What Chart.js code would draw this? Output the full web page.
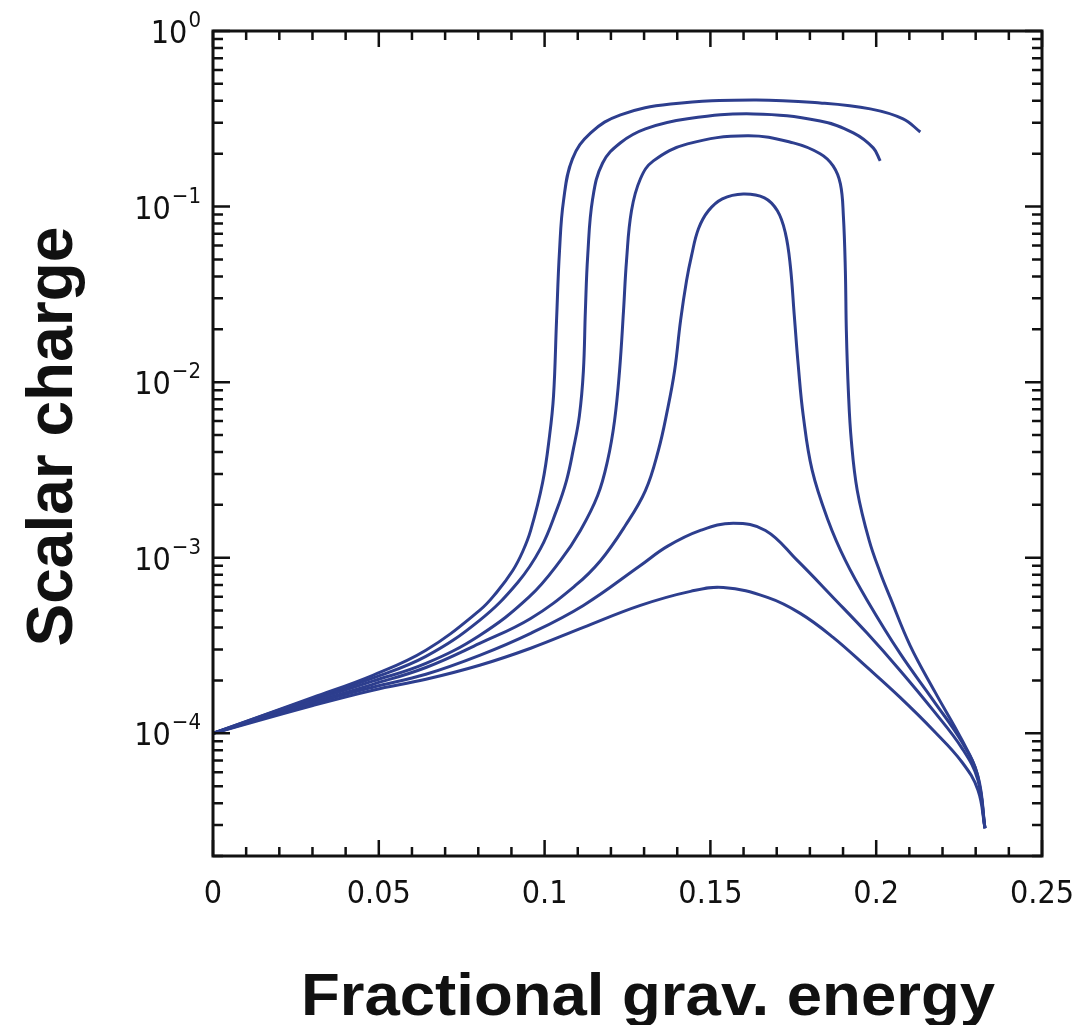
<!DOCTYPE html>
<html>
<head>
<meta charset="utf-8">
<script src="https://cdn.jsdelivr.net/npm/chart.js@4.4.1/dist/chart.umd.min.js"></script>
<style>
  html, body { margin: 0; padding: 0; background: #fff; }
  #wrap { width: 1082px; height: 1025px; position: relative; }
</style>
</head>
<body>
<div id="wrap"><canvas id="chargeChart"></canvas></div>
<script>
// fractional grav. energy (x) vs scalar charge (y), one pair per track
const xA = [0, 0.0301, 0.0482, 0.0642, 0.0804, 0.0855, 0.0904, 0.0934, 0.0958, 0.0994, 0.1015, 0.1027, 0.1036, 0.1045, 0.1057, 0.1084, 0.1139, 0.1229, 0.1380, 0.1630, 0.1831, 0.1982, 0.2081, 0.2133];
const yA = [1.0e-4, 1.60e-4, 2.14e-4, 2.97e-4, 5.01e-4, 6.34e-4, 8.46e-4, 1.085e-3, 1.43e-3, 2.68e-3, 4.96e-3, 8.38e-3, 0.0224, 0.0560, 0.1078, 0.187, 0.263, 0.333, 0.384, 0.405, 0.389, 0.360, 0.316, 0.266];

const xB = [0, 0.0301, 0.0482, 0.0642, 0.0804, 0.0919, 0.0988, 0.1036, 0.1066, 0.1087, 0.1105, 0.1117, 0.1123, 0.1130, 0.1145, 0.1175, 0.1229, 0.1304, 0.1431, 0.1630, 0.1831, 0.1931, 0.1991, 0.2012];
const yB = [1.0e-4, 1.58e-4, 2.06e-4, 2.74e-4, 4.40e-4, 7.23e-4, 1.13e-3, 1.86e-3, 2.75e-3, 4.18e-3, 6.45e-3, 0.0116, 0.0255, 0.0524, 0.111, 0.177, 0.231, 0.277, 0.316, 0.337, 0.307, 0.263, 0.216, 0.182];

const xC = [0, 0.0301, 0.0482, 0.0642, 0.0804, 0.0955, 0.1048, 0.1108, 0.1160, 0.1190, 0.1211, 0.1226, 0.1238, 0.1247, 0.1262, 0.1289, 0.1328, 0.1431, 0.1611, 0.1750, 0.1831, 0.1870, 0.1892, 0.1901, 0.1907, 0.1910, 0.1916, 0.1925, 0.1943, 0.1979, 0.2012, 0.2042, 0.2102, 0.2178, 0.2259, 0.2304, 0.2328];
const yC = [1.0e-4, 1.54e-4, 1.98e-4, 2.50e-4, 3.61e-4, 6.02e-4, 9.65e-4, 1.43e-3, 2.26e-3, 3.58e-3, 6.04e-3, 0.0116, 0.0255, 0.0491, 0.0946, 0.144, 0.182, 0.2275, 0.253, 0.2306, 0.200, 0.1705, 0.1347, 0.0886, 0.0431, 0.0196, 8.95e-3, 4.64e-3, 2.41e-3, 1.25e-3, 8.24e-4, 5.94e-4, 3.17e-4, 1.71e-4, 9.12e-5, 5.92e-5, 2.88e-5];

const xD = [0, 0.0301, 0.0482, 0.0642, 0.0804, 0.0958, 0.1093, 0.1169, 0.1244, 0.1304, 0.1343, 0.1370, 0.1392, 0.1410, 0.1428, 0.1443, 0.1464, 0.1494, 0.1536, 0.1599, 0.1663, 0.1702, 0.1726, 0.1741, 0.1753, 0.1765, 0.1780, 0.1807, 0.1855, 0.1907, 0.1973, 0.2072, 0.2172, 0.2259, 0.2307, 0.2328];
const yD = [1.0e-4, 1.50e-4, 1.90e-4, 2.37e-4, 3.25e-4, 4.51e-4, 6.95e-4, 9.65e-4, 1.53e-3, 2.41e-3, 4.08e-3, 6.88e-3, 0.0116, 0.0224, 0.0378, 0.0524, 0.0747, 0.0946, 0.1107, 0.118, 0.1121, 0.0946, 0.0709, 0.0460, 0.0239, 0.0124, 6.45e-3, 3.14e-3, 1.63e-3, 9.65e-4, 5.71e-4, 2.85e-4, 1.54e-4, 8.89e-5, 5.69e-5, 2.88e-5];

const xE = [0, 0.0301, 0.0482, 0.0642, 0.0804, 0.0958, 0.1117, 0.1289, 0.1370, 0.1470, 0.1569, 0.1666, 0.1762, 0.1870, 0.1973, 0.2072, 0.2172, 0.2259, 0.2307, 0.2328];
const yE = [1.0e-4, 1.48e-4, 1.83e-4, 2.17e-4, 2.78e-4, 3.71e-4, 5.35e-4, 9.03e-4, 1.16e-3, 1.43e-3, 1.57e-3, 1.43e-3, 9.65e-4, 5.94e-4, 3.71e-4, 2.28e-4, 1.35e-4, 8.21e-5, 5.40e-5, 2.88e-5];

const xF = [0, 0.0301, 0.0482, 0.0642, 0.0804, 0.0958, 0.1117, 0.1289, 0.1440, 0.1539, 0.1672, 0.1771, 0.1870, 0.1973, 0.2072, 0.2172, 0.2259, 0.2307, 0.2328];
const yF = [1.0e-4, 1.44e-4, 1.76e-4, 2.03e-4, 2.44e-4, 3.05e-4, 4.01e-4, 5.35e-4, 6.43e-4, 6.77e-4, 5.94e-4, 4.82e-4, 3.52e-4, 2.37e-4, 1.60e-4, 1.04e-4, 6.84e-5, 4.74e-5, 2.88e-5];

// axis labels
const xTickLabels = ['0', '0.05', '0.1', '0.15', '0.2', '0.25'];
const yTickExponents = [0, -1, -2, -3, -4];
const xTitle = 'Fractional grav. energy';
const yTitle = 'Scalar charge';

const lineColor = '#2d3e8e';
const inkColor = '#111111';
const tickFont = '"DejaVu Sans Condensed", "DejaVu Sans", sans-serif';

function toPoints(xs, ys) {
  return xs.map((x, i) => ({ x: x, y: ys[i] }));
}

const tracks = [[xA, yA], [xB, yB], [xC, yC], [xD, yD], [xE, yE], [xF, yF]];

// box frame with inward ticks on all four sides, tick labels and titles
const framePlugin = {
  id: 'frame',
  afterDraw(chart) {
    const ctx = chart.ctx;
    const area = chart.chartArea;
    const sx = chart.scales.x;
    const sy = chart.scales.y;

    ctx.save();
    ctx.strokeStyle = inkColor;
    ctx.fillStyle = inkColor;
    ctx.lineWidth = 2.5;
    ctx.beginPath();

    // x ticks every 0.01, longer every 0.05
    for (let i = 0; i <= 25; i++) {
      const px = sx.getPixelForValue(i / 100);
      const len = i % 5 === 0 ? 16 : 9;
      ctx.moveTo(px, area.bottom);
      ctx.lineTo(px, area.bottom - len);
      ctx.moveTo(px, area.top);
      ctx.lineTo(px, area.top + len);
    }

    // log ticks: 1..9 per decade
    for (let d = -5; d <= 0; d++) {
      for (let m = 1; m <= 9; m++) {
        const v = m * Math.pow(10, d);
        if (v < sy.min * 0.999 || v > sy.max * 1.001) continue;
        const py = sy.getPixelForValue(v);
        const len = m === 1 ? 17 : 10;
        ctx.moveTo(area.left, py);
        ctx.lineTo(area.left + len, py);
        ctx.moveTo(area.right, py);
        ctx.lineTo(area.right - len, py);
      }
    }
    ctx.stroke();

    ctx.lineWidth = 3;
    ctx.strokeRect(area.left, area.top, area.right - area.left, area.bottom - area.top);

    // x tick labels
    ctx.font = '32px ' + tickFont;
    ctx.textAlign = 'center';
    ctx.textBaseline = 'alphabetic';
    xTickLabels.forEach(lbl => {
      const px = sx.getPixelForValue(parseFloat(lbl));
      ctx.fillText(lbl, px, area.bottom + 47);
    });

    // y tick labels as 10 with a raised exponent
    ctx.textAlign = 'right';
    yTickExponents.forEach(e => {
      const py = sy.getPixelForValue(Math.pow(10, e));
      const expText = e < 0 ? '\u2212' + Math.abs(e) : String(e);
      const right = area.left - 12;
      ctx.font = '22px ' + tickFont;
      const ew = ctx.measureText(expText).width;
      ctx.fillText(expText, right, py - 4);
      ctx.font = '32px ' + tickFont;
      ctx.fillText('10', right - ew - 1, py + 12);
    });

    // axis titles
    ctx.font = 'bold 64px "Liberation Sans", Arial, sans-serif';
    ctx.textAlign = 'center';
    ctx.save();
    ctx.translate(72, (area.top + area.bottom) / 2 - 7);
    ctx.rotate(-Math.PI / 2);
    ctx.fillText(yTitle, 0, 0);
    ctx.restore();

    ctx.font = 'bold 60px "Liberation Sans", Arial, sans-serif';
    const tw = ctx.measureText(xTitle).width;
    ctx.save();
    ctx.translate(648, 1015);
    ctx.scale(694 / tw, 1);
    ctx.fillText(xTitle, 0, 0);
    ctx.restore();

    ctx.restore();
  }
};

const ctx = document.getElementById('chargeChart').getContext('2d');
const chargeChart = new Chart(ctx, {
  type: 'line',
  data: {
    datasets: tracks.map(t => ({
      data: toPoints(t[0], t[1]),
      borderColor: lineColor,
      borderWidth: 3,
      pointRadius: 0,
      fill: false,
      tension: 0.4
    }))
  },
  options: {
    responsive: true,
    maintainAspectRatio: false,
    animation: false,
    layout: { padding: { left: 213, top: 31, right: 40, bottom: 169 } },
    plugins: {
      legend: { display: false },
      tooltip: { enabled: false }
    },
    scales: {
      x: { type: 'linear', min: 0, max: 0.25, display: false },
      y: { type: 'logarithmic', min: 2e-5, max: 1, display: false }
    }
  },
  plugins: [framePlugin]
});
</script>
</body>
</html>
